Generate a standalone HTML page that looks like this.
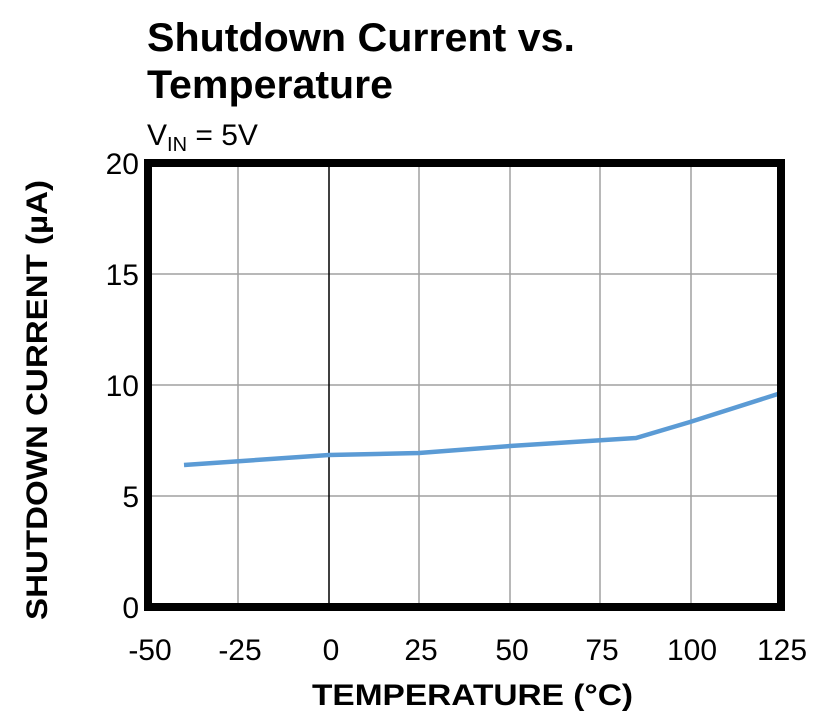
<!DOCTYPE html>
<html><head><style>body{margin:0;background:#fff}</style></head><body>
<svg width="825" height="716" xmlns="http://www.w3.org/2000/svg" font-family="Liberation Sans, Arial, sans-serif">
<rect width="825" height="716" fill="#fff"/>
<text x="147" y="51" font-size="40" font-weight="bold" textLength="428" lengthAdjust="spacingAndGlyphs">Shutdown Current vs.</text>
<text x="147" y="98" font-size="40" font-weight="bold" textLength="246" lengthAdjust="spacingAndGlyphs">Temperature</text>
<text x="147" y="145" font-size="30">V<tspan font-size="20" dy="6">IN</tspan><tspan dy="-6"> = 5V</tspan></text>
<g stroke="#a0a0a0" stroke-width="1.5">
<line x1="238" y1="163" x2="238" y2="607"/>
<line x1="419" y1="163" x2="419" y2="607"/>
<line x1="510" y1="163" x2="510" y2="607"/>
<line x1="600" y1="163" x2="600" y2="607"/>
<line x1="691" y1="163" x2="691" y2="607"/>
<line x1="148" y1="274" x2="781" y2="274"/>
<line x1="148" y1="385" x2="781" y2="385"/>
<line x1="148" y1="496" x2="781" y2="496"/>
</g>
<line x1="329" y1="163" x2="329" y2="607" stroke="#000" stroke-width="1.5"/>
<polyline points="184,465 329,455 419,453 510,446 636,438 690,422 781,393" fill="none" stroke="#5b9bd5" stroke-width="4.5"/>
<rect x="148" y="163" width="633" height="444" fill="none" stroke="#000" stroke-width="8"/>
<g font-size="30" text-anchor="end">
<text x="139" y="174">20</text><text x="139" y="285">15</text><text x="139" y="396">10</text><text x="139" y="507">5</text><text x="139" y="618">0</text>
</g>
<g font-size="30" text-anchor="middle">
<text x="150" y="660">-50</text><text x="240" y="660">-25</text><text x="331" y="660">0</text><text x="421" y="660">25</text><text x="512" y="660">50</text><text x="602" y="660">75</text><text x="692" y="660">100</text><text x="782" y="660">125</text>
</g>
<text x="312" y="705" font-size="30" font-weight="bold" textLength="321" lengthAdjust="spacingAndGlyphs">TEMPERATURE (°C)</text>
<text transform="translate(47,620) rotate(-90)" font-size="30" font-weight="bold" textLength="440" lengthAdjust="spacingAndGlyphs">SHUTDOWN CURRENT (µA)</text>
</svg>
</body></html>
